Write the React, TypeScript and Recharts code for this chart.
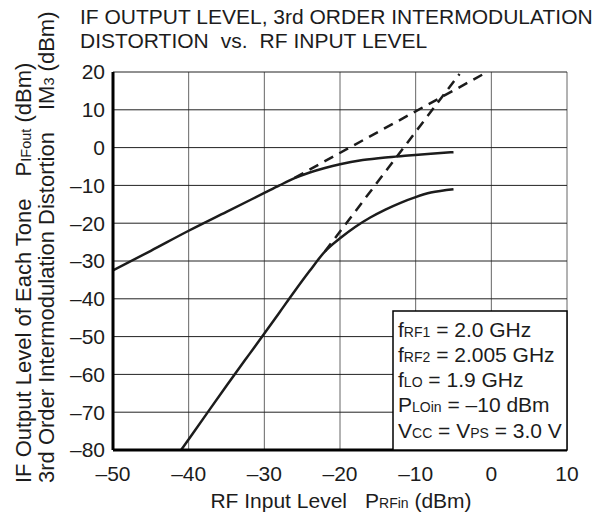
import React from "react";
import { LineChart, Line, XAxis, YAxis, CartesianGrid } from "recharts";

// RF input level ticks (dBm) and output level ticks (dBm)
const xTicks = [-50, -40, -30, -20, -10, 0, 10];
const yTicks = [-80, -70, -60, -50, -40, -30, -20, -10, 0, 10, 20];

// IF output level of each tone (measured)
const ifOutX = [-50, -45, -40, -35, -30, -28, -26, -24, -22, -20, -17, -14, -11, -8, -5];
const ifOutY = [-32.5, -27.3, -22, -17, -12, -10, -8.1, -6.6, -5.4, -4.4, -3.3, -2.6, -2.1, -1.6, -1.2];

// 3rd order IM distortion (measured)
const im3X = [-41, -38, -35, -32, -30, -28, -26, -24, -22, -20, -18, -16, -14, -12, -10, -8, -5];
const im3Y = [-80, -71.5, -63, -54.7, -49.2, -43.6, -38, -32.6, -27.5, -24, -21, -18.5, -16.4, -14.6, -13.1, -11.9, -11];

// extrapolated lines (dashed)
const ifOutExtX = [-26, -1];
const ifOutExtY = [-8, 19.5];
const im3ExtX = [-22, -4.2];
const im3ExtY = [-27.5, 19.5];

const toPoints = (xs: number[], ys: number[]) => xs.map((x, i) => ({ x, y: ys[i] }));

const FONT = "'Liberation Sans', Arial, Helvetica, sans-serif";
const INK = "#1c1c1c";

const fmt = (v: number) => (v < 0 ? `\u2013${-v}` : `${v}`);

export default function App() {
  const tick = { fontSize: 21, fill: INK, fontFamily: FONT };
  const frame = { stroke: "#000", strokeWidth: 3 };
  const sub = { fontSize: 14 };
  const ysub = { fontSize: 14.5 };

  return (
    <div style={{ position: "absolute", left: 0, top: 0, width: 603, height: 521, background: "#fff", fontFamily: FONT }}>
      <LineChart width={603} height={521} margin={{ top: 72, right: 36, bottom: 41, left: 60 }}>
        <CartesianGrid horizontal={false} stroke="#666" strokeWidth={1} />
        <CartesianGrid vertical={false} stroke="#222" strokeWidth={1} />
        <XAxis
          dataKey="x"
          type="number"
          domain={[-50, 10]}
          ticks={xTicks}
          interval={0}
          allowDataOverflow
          tick={tick}
          tickLine={false}
          tickSize={0}
          tickMargin={16}
          height={30}
          axisLine={frame}
          tickFormatter={fmt}
        />
        <XAxis xAxisId="top" orientation="top" type="number" domain={[-50, 10]} tick={false} tickLine={false} height={0} axisLine={frame} />
        <YAxis
          type="number"
          domain={[-80, 20]}
          ticks={yTicks}
          interval={0}
          allowDataOverflow
          tick={tick}
          tickLine={false}
          tickSize={0}
          tickMargin={8}
          width={53}
          axisLine={frame}
          tickFormatter={fmt}
        />
        <YAxis yAxisId="right" orientation="right" type="number" domain={[-80, 20]} tick={false} tickLine={false} width={0} axisLine={frame} />
        <Line data={toPoints(ifOutX, ifOutY)} dataKey="y" type="monotone" stroke={INK} strokeWidth={2.5} dot={false} activeDot={false} isAnimationActive={false} />
        <Line data={toPoints(im3X, im3Y)} dataKey="y" type="monotone" stroke={INK} strokeWidth={2.5} dot={false} activeDot={false} isAnimationActive={false} />
        <Line data={toPoints(ifOutExtX, ifOutExtY)} dataKey="y" type="linear" stroke={INK} strokeWidth={2.5} strokeDasharray="10 7" dot={false} activeDot={false} isAnimationActive={false} />
        <Line data={toPoints(im3ExtX, im3ExtY)} dataKey="y" type="linear" stroke={INK} strokeWidth={2.5} strokeDasharray="10 7" dot={false} activeDot={false} isAnimationActive={false} />
      </LineChart>

      <svg width={603} height={521} style={{ position: "absolute", left: 0, top: 0, pointerEvents: "none" }} fontFamily={FONT} fill={INK}>
        {/* title */}
        <text x={80} y={24} fontSize={21}>IF OUTPUT LEVEL, 3rd ORDER INTERMODULATION</text>
        <text x={80} y={48} fontSize={21}>
          DISTORTION
          <tspan dx={12}>vs.</tspan>
          <tspan dx={12}>RF INPUT LEVEL</tspan>
        </text>

        {/* y-axis labels */}
        <text x={31} y={483} fontSize={22} transform="rotate(-90 31 483)">
          IF Output Level of Each Tone
          <tspan dx={22}>P</tspan>
          <tspan {...ysub}>IFout</tspan>
          <tspan> (dBm)</tspan>
        </text>
        <text x={54} y={483} fontSize={22} transform="rotate(-90 54 483)">
          3rd Order Intermodulation Distortion
          <tspan dx={22}>IM</tspan>
          <tspan {...ysub}>3</tspan>
          <tspan> (dBm)</tspan>
        </text>

        {/* x-axis label */}
        <text x={341} y={508} fontSize={21} textAnchor="middle">
          RF Input Level
          <tspan dx={18}>P</tspan>
          <tspan {...sub}>RFin</tspan>
          <tspan> (dBm)</tspan>
        </text>

        {/* conditions box */}
        <rect x={393} y={311} width={174} height={139} fill="#fff" stroke="#000" strokeWidth={1.5} />
        <text x={398} y={337} fontSize={21}>f<tspan {...sub}>RF1</tspan> = 2.0 GHz</text>
        <text x={398} y={362} fontSize={21}>f<tspan {...sub}>RF2</tspan> = 2.005 GHz</text>
        <text x={398} y={387} fontSize={21}>f<tspan {...sub}>LO</tspan> = 1.9 GHz</text>
        <text x={398} y={412} fontSize={21}>P<tspan {...sub}>LOin</tspan> = {"\u2013"}10 dBm</text>
        <text x={398} y={438} fontSize={21}>V<tspan {...sub}>CC</tspan> = V<tspan {...sub}>PS</tspan> = 3.0 V</text>
      </svg>
    </div>
  );
}
